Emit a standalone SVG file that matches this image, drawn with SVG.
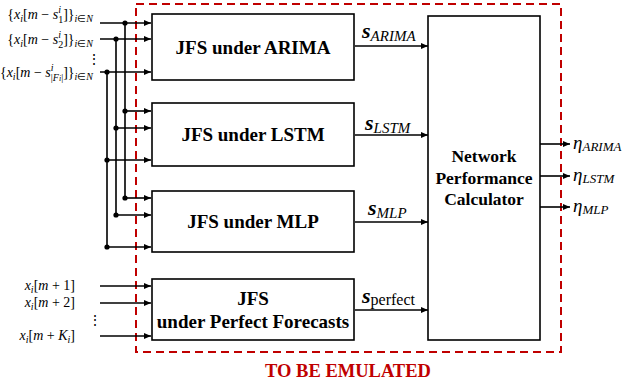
<svg xmlns="http://www.w3.org/2000/svg" width="633" height="385" viewBox="0 0 633 385">
<defs>
<marker id="ah" markerWidth="7" markerHeight="6" refX="7" refY="3" orient="auto" markerUnits="userSpaceOnUse">
<path d="M0,0 L7,3 L0,6 Z" fill="#000"/>
</marker>
<style>
.box{fill:#fff;stroke:#000;stroke-width:1.6}
.ln{fill:none;stroke:#000;stroke-width:1.6}
.ar{fill:none;stroke:#000;stroke-width:1.6;marker-end:url(#ah)}
.dot{fill:#000}
.bt{font-family:"Liberation Serif","Times New Roman",serif;font-weight:bold;font-size:19px;text-anchor:middle;fill:#000}
.ct{font-family:"Liberation Serif","Times New Roman",serif;font-weight:bold;font-size:17.5px;text-anchor:middle;fill:#000}
.m{font-family:"Liberation Serif","Times New Roman",serif;font-size:14px;fill:#000}
.mi{font-style:italic}
.s{font-family:"Liberation Serif","Times New Roman",serif;font-size:22px;font-weight:bold;font-style:italic;fill:#000}
.eta{font-family:"Liberation Serif","Times New Roman",serif;font-size:19px;font-style:italic;fill:#000}
</style>
</defs>
<rect x="136" y="4" width="425" height="348" fill="none" stroke="#C00000" stroke-width="2" stroke-dasharray="8,5"/>
<g id="connectors">
<path class="ln" d="M125,23 V198 M116,39 V215 M107,72 V247"/>
<path class="ar" d="M100,23 H151"/>
<path class="ar" d="M100,39 H151"/>
<path class="ar" d="M100,72 H151"/>
<path class="ar" d="M125,111 H151"/>
<path class="ar" d="M116,128 H151"/>
<path class="ar" d="M107,160 H151"/>
<path class="ar" d="M125,198 H151"/>
<path class="ar" d="M116,215 H151"/>
<path class="ar" d="M107,247 H151"/>
<circle class="dot" cx="125" cy="23" r="2.6"/>
<circle class="dot" cx="116" cy="39" r="2.6"/>
<circle class="dot" cx="107" cy="72" r="2.6"/>
<circle class="dot" cx="125" cy="111" r="2.6"/>
<circle class="dot" cx="116" cy="128" r="2.6"/>
<circle class="dot" cx="107" cy="160" r="2.6"/>
<circle class="dot" cx="125" cy="198" r="2.6"/>
<circle class="dot" cx="116" cy="215" r="2.6"/>
<circle class="dot" cx="107" cy="247" r="2.6"/>
<path class="ar" d="M100,286 H151"/>
<path class="ar" d="M100,303 H151"/>
<path class="ar" d="M100,336 H151"/>
<path class="ar" d="M355,46 H428"/>
<path class="ar" d="M355,135 H428"/>
<path class="ar" d="M355,222 H428"/>
<path class="ar" d="M355,310 H428"/>
<path class="ar" d="M540,144 H570"/>
<path class="ar" d="M540,176 H570"/>
<path class="ar" d="M540,207 H570"/>
</g>
<g id="inputs">
<text class="m" x="93" y="19" text-anchor="end">{<tspan class="mi">x</tspan><tspan class="mi" font-size="10" dy="3">i</tspan><tspan dy="-3">[</tspan><tspan class="mi">m</tspan> − <tspan class="mi">s</tspan><tspan class="mi" font-size="10" dy="-6">i</tspan><tspan font-size="10" dx="-2.8" dy="10">1</tspan><tspan dy="-4">]}</tspan><tspan class="mi" font-size="10" dy="3">i</tspan><tspan font-size="10">∈</tspan><tspan class="mi" font-size="10">N</tspan></text>
<text class="m" x="93" y="44" text-anchor="end">{<tspan class="mi">x</tspan><tspan class="mi" font-size="10" dy="3">i</tspan><tspan dy="-3">[</tspan><tspan class="mi">m</tspan> − <tspan class="mi">s</tspan><tspan class="mi" font-size="10" dy="-6">i</tspan><tspan font-size="10" dx="-2.8" dy="10">2</tspan><tspan dy="-4">]}</tspan><tspan class="mi" font-size="10" dy="3">i</tspan><tspan font-size="10">∈</tspan><tspan class="mi" font-size="10">N</tspan></text>
<text class="m" x="94" y="64" text-anchor="middle" font-size="13">⋮</text>
<text class="m" x="93" y="77" text-anchor="end">{<tspan class="mi">x</tspan><tspan class="mi" font-size="10" dy="3">i</tspan><tspan dy="-3">[</tspan><tspan class="mi">m</tspan> − <tspan class="mi">s</tspan><tspan class="mi" font-size="10" dy="-6">i</tspan><tspan font-size="10" dx="-2.8" dy="10">|<tspan class="mi">F</tspan><tspan class="mi" font-size="8">i</tspan>|</tspan><tspan dy="-4">]}</tspan><tspan class="mi" font-size="10" dy="3">i</tspan><tspan font-size="10">∈</tspan><tspan class="mi" font-size="10">N</tspan></text>
<text class="m" x="75" y="290" text-anchor="end"><tspan class="mi">x</tspan><tspan class="mi" font-size="10" dy="3">i</tspan><tspan dy="-3">[</tspan><tspan class="mi">m</tspan> + 1]</text>
<text class="m" x="75" y="307" text-anchor="end"><tspan class="mi">x</tspan><tspan class="mi" font-size="10" dy="3">i</tspan><tspan dy="-3">[</tspan><tspan class="mi">m</tspan> + 2]</text>
<text class="m" x="95" y="325" text-anchor="middle" font-size="13">⋮</text>
<text class="m" x="75" y="340" text-anchor="end"><tspan class="mi">x</tspan><tspan class="mi" font-size="10" dy="3">i</tspan><tspan dy="-3">[</tspan><tspan class="mi">m</tspan> + <tspan class="mi">K</tspan><tspan class="mi" font-size="10" dy="3">i</tspan><tspan dy="-3">]</tspan></text>
</g>
<g id="jfs-arima">
<rect class="box" x="152" y="14" width="202" height="66"/>
<text class="bt" x="253" y="54">JFS under ARIMA</text>
</g>
<g id="jfs-lstm">
<rect class="box" x="152" y="103" width="202" height="63"/>
<text class="bt" x="253" y="141">JFS under LSTM</text>
</g>
<g id="jfs-mlp">
<rect class="box" x="152" y="191" width="202" height="61"/>
<text class="bt" x="253" y="228">JFS under MLP</text>
</g>
<g id="jfs-perfect">
<rect class="box" x="152" y="279" width="202" height="61"/>
<text class="bt" x="253" y="305">JFS</text>
<text class="bt" x="253" y="328">under Perfect Forecasts</text>
</g>
<g id="calculator">
<rect class="box" x="428" y="16" width="112" height="324"/>
<text class="ct" x="484" y="162">Network</text>
<text class="ct" x="484" y="184">Performance</text>
<text class="ct" x="484" y="205">Calculator</text>
</g>
<g id="signal-labels">
<text class="s" x="362" y="38">s<tspan font-size="15" font-weight="normal" dy="3">ARIMA</tspan></text>
<text class="s" x="365" y="130">s<tspan font-size="15" font-weight="normal" dy="3">LSTM</tspan></text>
<text class="s" x="368" y="215">s<tspan font-size="15" font-weight="normal" dy="3">MLP</tspan></text>
<text class="s" x="362" y="303">s<tspan font-size="16" font-weight="normal" font-style="normal" dy="2">perfect</tspan></text>
</g>
<g id="outputs">
<text class="eta" x="573" y="149">η<tspan font-size="13" dy="2">ARIMA</tspan></text>
<text class="eta" x="573" y="181">η<tspan font-size="13" dy="2">LSTM</tspan></text>
<text class="eta" x="573" y="212">η<tspan font-size="13" dy="2">MLP</tspan></text>
</g>
<text x="348" y="377" font-family="'Liberation Serif','Times New Roman',serif" font-weight="bold" font-size="18.5" fill="#C00000" text-anchor="middle">TO BE EMULATED</text>
</svg>
